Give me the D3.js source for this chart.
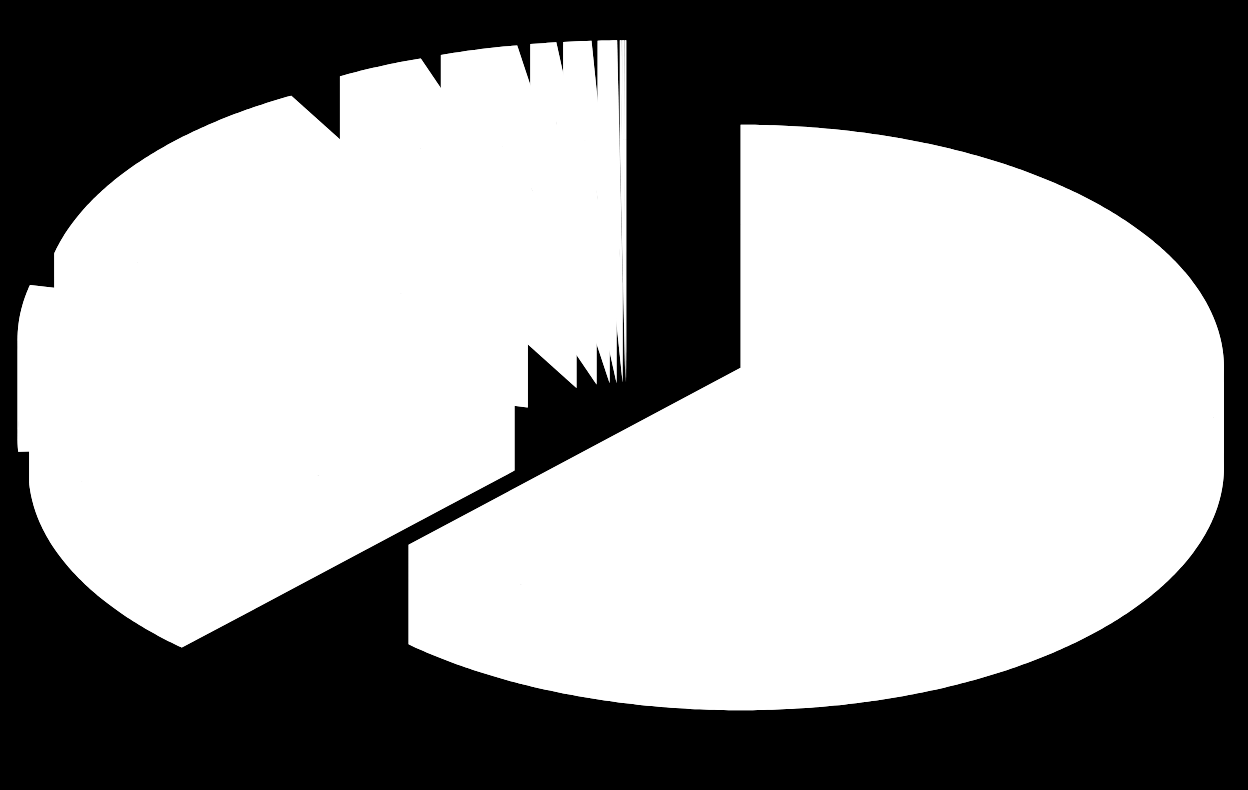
<!DOCTYPE html>
<html><head><meta charset="utf-8">
<style>html,body{margin:0;padding:0;background:#000}svg{display:block}</style>
<script src="https://cdn.jsdelivr.net/npm/d3@7/dist/d3.min.js"></script>
</head><body><svg id="c" width="1248" height="790"></svg>
<script>
const categories = ["A","B","C","D","E","F","G","H","I","J","K","L"];
const shares = [62.0,12.17,4.44,13.3,2.9,2.58,0.86,0.93,0.64,0.06,0.06,0.06];
const explosion = 0.254;

const svg = d3.select("#c");
const W = 1248, H = 790;
svg.append("rect").attr("width",W).attr("height",H).attr("fill","#000");
const rxLeft = 486, rxRight = 483.3, ry = 243, depth = 99.5, cx0 = 626.5, cy0 = 345;
const px = d3.scaleLinear().domain([-1,0,1]).range([cx0-rxLeft,cx0,cx0+rxRight]).clamp(false);
const py = d3.scaleLinear().domain([-1,1]).range([cy0-ry,cy0+ry]);
const pie = d3.pie().sort(null).value(d=>d.v).startAngle(0).endAngle(2*Math.PI);
const rows = categories.map((c,i)=>({c,v:shares[i]}));
const arcs = pie(rows);
const line = d3.line().x(d=>d[0]).y(d=>d[1]).curve(d3.curveLinear);
function geom(a){
  const m=(a.startAngle+a.endAngle)/2;
  const ox=explosion*Math.sin(m), oy=-explosion*Math.cos(m);
  const n=Math.max(2,Math.ceil((a.endAngle-a.startAngle)/0.01));
  const rim=d3.range(n+1).map(i=>{
    const t=a.startAngle+(a.endAngle-a.startAngle)*i/n;
    return [px(ox+Math.sin(t)),py(oy-Math.cos(t))];
  });
  return {c:[px(ox),py(oy)],rim};
}
const down=p=>[p[0],p[1]+depth];
function monotone(rim){
  const out=[];let cur=[rim[0]],sign=0;
  for(let i=1;i<rim.length;i++){
    const s=Math.sign(rim[i][0]-rim[i-1][0]);
    if(sign&&s&&s!==sign){out.push(cur);cur=[rim[i-1]];}
    if(s)sign=s;
    cur.push(rim[i]);
  }
  out.push(cur);return out;
}
const g=svg.append("g").attr("fill","#fff").attr("stroke","none");
arcs.forEach(a=>{
  const {c,rim}=geom(a);
  const top=[c,...rim];
  const s=g.append("g").attr("data-cat",a.data.c);
  s.append("path").attr("d",line(top.map(down))+"Z");
  s.append("path").attr("d",line([c,rim[0],down(rim[0]),down(c)])+"Z");
  s.append("path").attr("d",line([c,rim[rim.length-1],down(rim[rim.length-1]),down(c)])+"Z");
  monotone(rim).forEach(ch=>{
    s.append("path").attr("d",line([...ch,...ch.slice().reverse().map(down)])+"Z");
  });
  s.append("path").attr("d",line(top)+"Z");
});
</script></body></html>
